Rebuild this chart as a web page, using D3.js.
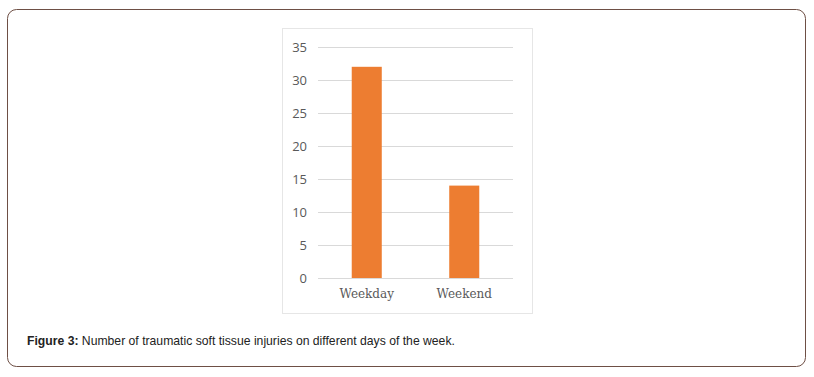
<!DOCTYPE html>
<html lang="en">
<head>
<meta charset="UTF-8">
<script src="https://d3js.org/d3.v7.min.js"></script>
<style>
  body { margin: 0; padding: 0; background: #fff; }
  svg { display: block; }
</style>
</head>
<body>
<svg id="chart" width="814" height="377"></svg>
<script>
// Chart data
const categories = ["Weekday", "Weekend"];
const injuries = [32, 14];
const yTicks = [0, 5, 10, 15, 20, 25, 30, 35];

const svg = d3.select("#chart");

// Outer figure frame
svg.append("rect")
  .attr("x", 7.5).attr("y", 9.5)
  .attr("width", 798).attr("height", 357)
  .attr("rx", 9)
  .attr("fill", "none")
  .attr("stroke", "#6e4f45")
  .attr("stroke-width", 1);

// Chart panel
svg.append("rect")
  .attr("x", 282.5).attr("y", 28.5)
  .attr("width", 250).attr("height", 285)
  .attr("fill", "#fff")
  .attr("stroke", "#e6e6e6");

const x = d3.scaleBand()
  .domain(categories)
  .range([318, 513])
  .paddingInner(0.692)
  .paddingOuter(0.346);

const y = d3.scaleLinear()
  .domain([0, 35])
  .range([278, 47]);

// Gridlines
svg.append("g")
  .selectAll("line")
  .data(yTicks)
  .join("line")
  .attr("x1", 318).attr("x2", 513)
  .attr("y1", d => Math.round(y(d)) + 0.5)
  .attr("y2", d => Math.round(y(d)) + 0.5)
  .attr("stroke", "#d9d9d9");

// Y axis labels
const yAxis = d3.axisLeft(y).tickValues(yTicks).tickSize(0).tickPadding(0);
const ya = svg.append("g")
  .attr("transform", "translate(307,0)")
  .call(yAxis);
ya.select(".domain").remove();
ya.selectAll("text")
  .attr("font-family", "'Open Sans', 'Noto Sans', sans-serif")
  .attr("font-size", 13)
  .attr("fill", "#595959");

// Bars
svg.append("g")
  .selectAll("rect")
  .data(injuries)
  .join("rect")
  .attr("x", (d, i) => x(categories[i]))
  .attr("y", d => y(d))
  .attr("width", x.bandwidth())
  .attr("height", d => y(0) - y(d))
  .attr("fill", "#ed7d31");

// X axis labels
const xAxis = d3.axisBottom(x).tickSize(0).tickPadding(0);
const xa = svg.append("g")
  .attr("transform", "translate(0,289)")
  .call(xAxis);
xa.select(".domain").remove();
xa.selectAll("text")
  .attr("font-family", "'DejaVu Serif', 'Liberation Serif', serif")
  .attr("font-size", 12)
  .attr("fill", "#595959");

// Caption
const cap = svg.append("text")
  .attr("x", 27).attr("y", 345)
  .attr("font-family", "Arial, 'Liberation Sans', sans-serif")
  .attr("font-size", 12.2)
  .attr("fill", "#222");
cap.append("tspan").attr("font-weight", "bold").text("Figure 3:");
cap.append("tspan").text(" Number of traumatic soft tissue injuries on different days of the week.");
</script>
</body>
</html>
